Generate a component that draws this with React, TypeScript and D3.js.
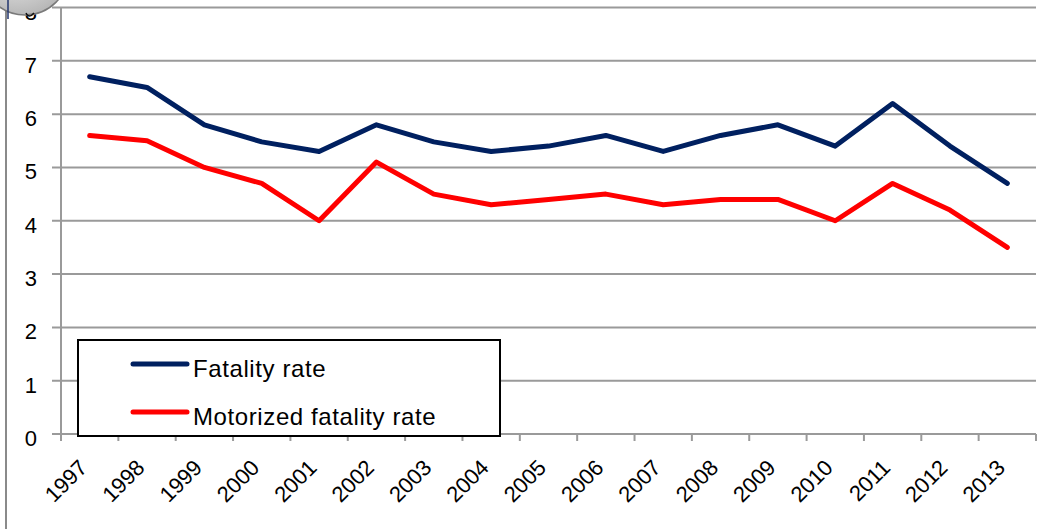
import React, { useEffect, useRef } from "react";
import * as d3 from "d3";

const years = [
  "1997", "1998", "1999", "2000", "2001", "2002", "2003", "2004", "2005",
  "2006", "2007", "2008", "2009", "2010", "2011", "2012", "2013",
];
const fatalityRate = [6.7, 6.5, 5.8, 5.48, 5.3, 5.8, 5.48, 5.3, 5.4, 5.6, 5.3, 5.6, 5.8, 5.4, 6.2, 5.4, 4.7];
const motorizedRate = [5.6, 5.5, 5.0, 4.7, 4.0, 5.1, 4.5, 4.3, 4.4, 4.5, 4.3, 4.4, 4.4, 4.0, 4.7, 4.2, 3.5];
const yTicks = [0, 1, 2, 3, 4, 5, 6, 7, 8];
const seriesNames = ["Fatality rate", "Motorized fatality rate"];
const seriesColors = ["#002060", "#ff0000"];

export default function App() {
  const svgRef = useRef<SVGSVGElement>(null);

  useEffect(() => {
    const width = 1052;
    const height = 529;
    const left = 61;
    const right = 1036;
    const top = 7.5;
    const bottom = 434;
    const font = "'Liberation Sans', Arial, sans-serif";
    const grey = "#9a9a9a";

    const svg = d3.select(svgRef.current);
    svg.selectAll("*").remove();
    svg.attr("width", width).attr("height", height);

    svg.append("rect").attr("width", width).attr("height", height).attr("fill", "#fff");

    const x = d3.scaleBand().domain(years).range([left, right]);
    const y = d3.scaleLinear().domain([0, 8]).range([bottom, top]);
    const cx = (d: string) => (x(d) as number) + x.bandwidth() / 2;

    // gridlines + y ticks
    svg
      .append("g")
      .selectAll("line")
      .data(yTicks)
      .enter()
      .append("line")
      .attr("x1", 52)
      .attr("x2", right)
      .attr("y1", (d) => y(d))
      .attr("y2", (d) => y(d))
      .attr("stroke", grey)
      .attr("stroke-width", 2);

    svg
      .append("g")
      .selectAll("text")
      .data(yTicks)
      .enter()
      .append("text")
      .attr("x", 37)
      .attr("y", (d) => y(d) + 12)
      .attr("text-anchor", "end")
      .style("font-family", font)
      .style("font-size", "22px")
      .attr("fill", "#000")
      .text((d) => d);

    // y axis line
    svg
      .append("line")
      .attr("x1", left)
      .attr("x2", left)
      .attr("y1", top)
      .attr("y2", bottom + 7)
      .attr("stroke", grey)
      .attr("stroke-width", 2);

    // x axis tick marks at band edges
    const edges = years.map((d) => x(d) as number).concat([right]);
    svg
      .append("g")
      .selectAll("line")
      .data(edges)
      .enter()
      .append("line")
      .attr("x1", (d) => d)
      .attr("x2", (d) => d)
      .attr("y1", bottom)
      .attr("y2", bottom + 7)
      .attr("stroke", grey)
      .attr("stroke-width", 2);

    svg
      .append("g")
      .selectAll("text")
      .data(years)
      .enter()
      .append("text")
      .attr("transform", (d) => `translate(${cx(d) - 1},${469}) rotate(-45)`)
      .attr("text-anchor", "end")
      .style("font-family", font)
      .style("font-size", "22px")
      .attr("fill", "#000")
      .text((d) => d);

    // lines
    const line = d3
      .line<number>()
      .x((_, i) => cx(years[i]))
      .y((d) => y(d));

    [fatalityRate, motorizedRate].forEach((values, i) => {
      svg
        .append("path")
        .datum(values)
        .attr("d", line)
        .attr("fill", "none")
        .attr("stroke", seriesColors[i])
        .attr("stroke-width", 5)
        .attr("stroke-linejoin", "round")
        .attr("stroke-linecap", "round");
    });

    // legend
    const legend = svg.append("g");
    legend
      .append("rect")
      .attr("x", 78)
      .attr("y", 340)
      .attr("width", 422)
      .attr("height", 96)
      .attr("fill", "#fff")
      .attr("stroke", "#000")
      .attr("stroke-width", 2);

    seriesNames.forEach((name, i) => {
      const ly = 364 + i * 48;
      legend
        .append("line")
        .attr("x1", 133)
        .attr("x2", 187)
        .attr("y1", ly)
        .attr("y2", ly)
        .attr("stroke", seriesColors[i])
        .attr("stroke-width", 5)
        .attr("stroke-linecap", "round");
      legend
        .append("text")
        .attr("x", 193)
        .attr("y", ly + 13)
        .style("font-family", font)
        .style("font-size", "24px")
        .style("letter-spacing", "0.6px")
        .attr("fill", "#000")
        .text(name);
    });

    // left frame edge and the clipped picture in the corner
    svg
      .append("line")
      .attr("x1", 6)
      .attr("x2", 6)
      .attr("y1", 0)
      .attr("y2", height)
      .attr("stroke", "#8a8a8a")
      .attr("stroke-width", 2);

    const defs = svg.append("defs");
    const grad = defs
      .append("radialGradient")
      .attr("id", "globe")
      .attr("cx", "40%")
      .attr("cy", "30%")
      .attr("r", "70%");
    grad.append("stop").attr("offset", "0%").attr("stop-color", "#ffffff");
    grad.append("stop").attr("offset", "100%").attr("stop-color", "#b8b8b8");

    svg
      .append("circle")
      .attr("cx", 25)
      .attr("cy", -29)
      .attr("r", 44)
      .attr("fill", "url(#globe)")
      .attr("stroke", "#7a7a7a")
      .attr("stroke-width", 1.5);
    svg
      .append("line")
      .attr("x1", 8)
      .attr("x2", 8)
      .attr("y1", 0)
      .attr("y2", 19)
      .attr("stroke", "#23366e")
      .attr("stroke-width", 1.5);
    svg
      .append("path")
      .attr("d", "M26,13 Q29,19 34,13")
      .attr("fill", "none")
      .attr("stroke", "#111")
      .attr("stroke-width", 1.5);
  }, []);

  return (
    <svg
      ref={svgRef}
      style={{ position: "absolute", left: 0, top: 0, display: "block" }}
    />
  );
}
